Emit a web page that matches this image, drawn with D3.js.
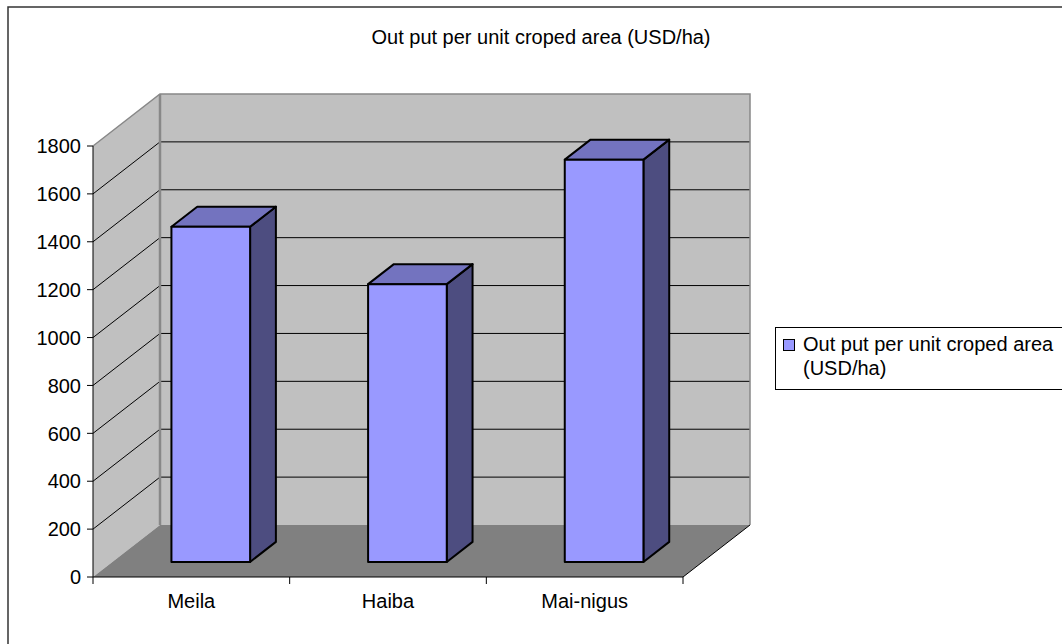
<!DOCTYPE html>
<html><head><meta charset="utf-8">
<script src="https://cdn.jsdelivr.net/npm/d3@7"></script>
<style>
html,body{margin:0;padding:0;background:#fff;}
svg{display:block;font-family:"Liberation Sans",Arial,sans-serif;}
</style></head>
<body>
<svg id="chart" width="1062" height="644"></svg>
<script>
const title = "Out put per unit croped area (USD/ha)";
const categories = ["Meila", "Haiba", "Mai-nigus"];
const values = [1400, 1160, 1680];
const seriesName = ["Out put per unit croped area", "(USD/ha)"];
const yTicks = [0, 200, 400, 600, 800, 1000, 1200, 1400, 1600, 1800];

const svg = d3.select("#chart");
const W = 1062, H = 644;
const fs = 20;

// outer border
svg.append("rect").attr("x", 8).attr("y", 7).attr("width", W + 20).attr("height", H + 20)
  .attr("fill", "#fff").attr("stroke", "#333").attr("stroke-width", 1.5);

// geometry
const x0 = 93, x1 = 683;
const dX = 67, dY = -52; // depth vector
const y = d3.scaleLinear().domain([0, 1800]).range([577, 146]);
const x = d3.scaleBand().domain(categories).range([x0, x1]).paddingInner(0.6).paddingOuter(0.3);
const t0 = 0.29, t1 = 0.675;

const yb = v => y(v) + dY; // back plane
const xb = v => v + dX;

const g = svg.append("g");
const line = d3.line();

// back wall
g.append("path").attr("d", line([[xb(x0), yb(1800)], [xb(x1), yb(1800)], [xb(x1), yb(0)], [xb(x0), yb(0)]]) + "Z")
  .attr("fill", "#c0c0c0");
// side wall
g.append("path").attr("d", line([[x0, y(1800)], [xb(x0), yb(1800)], [xb(x0), yb(0)], [x0, y(0)]]) + "Z")
  .attr("fill", "#c0c0c0");
// floor
g.append("path").attr("d", line([[x0, y(0)], [x1, y(0)], [xb(x1), yb(0)], [xb(x0), yb(0)]]) + "Z")
  .attr("fill", "#808080");

// gridlines
const gridVals = yTicks.filter(v => v > 0 && v < 1800);
g.selectAll(".gb").data(gridVals).join("line")
  .attr("x1", xb(x0)).attr("x2", xb(x1)).attr("y1", d => yb(d)).attr("y2", d => yb(d))
  .attr("stroke", "#000").attr("stroke-width", 1);
g.selectAll(".gs").data(gridVals).join("line")
  .attr("x1", x0).attr("x2", xb(x0)).attr("y1", d => y(d)).attr("y2", d => yb(d))
  .attr("stroke", "#000").attr("stroke-width", 1);

// wall edges (gray)
const edgeC = "#888";
g.append("path").attr("d", line([[x0, y(1800)], [xb(x0), yb(1800)], [xb(x1), yb(1800)], [xb(x1), yb(0)]]))
  .attr("fill", "none").attr("stroke", edgeC).attr("stroke-width", 1.5);
g.append("line").attr("x1", xb(x0)).attr("x2", xb(x0)).attr("y1", yb(1800)).attr("y2", yb(0))
  .attr("stroke", edgeC).attr("stroke-width", 2.5);
// floor right edge
g.append("line").attr("x1", x1).attr("y1", y(0)).attr("x2", xb(x1)).attr("y2", yb(0))
  .attr("stroke", "#000").attr("stroke-width", 1);

// bars
const bars = g.selectAll(".bar").data(categories.map((c, i) => ({c, v: values[i]}))).join("g");
bars.each(function(d) {
  const gg = d3.select(this);
  const L = x(d.c) + t0 * dX, R = x(d.c) + x.bandwidth() + t0 * dX;
  const T = y(d.v) + t0 * dY, B = y(0) + t0 * dY;
  const ddx = (t1 - t0) * dX, ddy = (t1 - t0) * dY;
  const face = (pts, fill) => gg.append("path").attr("d", line(pts) + "Z").attr("fill", fill)
    .attr("stroke", "#000").attr("stroke-width", 2).attr("stroke-linejoin", "round");
  face([[R, T], [R + ddx, T + ddy], [R + ddx, B + ddy], [R, B]], "#4d4d80");
  face([[L, T], [L + ddx, T + ddy], [R + ddx, T + ddy], [R, T]], "#7373bf");
  face([[L, T], [R, T], [R, B], [L, B]], "#9999ff");
});

// y axis
g.append("line").attr("x1", x0).attr("x2", x0).attr("y1", y(1800)).attr("y2", y(0)).attr("stroke", "#000");
g.selectAll(".yt").data(yTicks).join("line")
  .attr("x1", x0 - 6).attr("x2", x0).attr("y1", d => y(d)).attr("y2", d => y(d)).attr("stroke", "#000");
g.selectAll(".yl").data(yTicks).join("text")
  .attr("x", x0 - 12).attr("y", d => y(d)).attr("dy", "0.36em")
  .attr("text-anchor", "end").attr("font-size", fs).attr("fill", "#000").text(d => d);

// x axis
g.append("line").attr("x1", x0).attr("x2", x1).attr("y1", y(0)).attr("y2", y(0)).attr("stroke", "#000");
const xTickPos = categories.map(c => x(c) - x.step() * x.paddingInner() / 2).concat([x1]);
g.selectAll(".xt").data(xTickPos).join("line")
  .attr("x1", d => d).attr("x2", d => d).attr("y1", y(0)).attr("y2", y(0) + 7).attr("stroke", "#000");
g.selectAll(".xl").data(categories).join("text")
  .attr("x", d => x(d) + x.bandwidth() / 2).attr("y", 608)
  .attr("text-anchor", "middle").attr("font-size", fs).attr("fill", "#000").text(d => d);

// title
svg.append("text").attr("x", 541).attr("y", 44).attr("text-anchor", "middle")
  .attr("font-size", fs).attr("fill", "#000").text(title);

// legend
const lg = svg.append("g");
lg.append("rect").attr("x", 775.5).attr("y", 327.5).attr("width", 300).attr("height", 62)
  .attr("fill", "#fff").attr("stroke", "#000").attr("stroke-width", 1);
lg.append("rect").attr("x", 783.5).attr("y", 339.5).attr("width", 11).attr("height", 11)
  .attr("fill", "#9999ff").attr("stroke", "#000").attr("stroke-width", 1);
lg.selectAll(".lt").data(seriesName).join("text")
  .attr("x", 803).attr("y", (d, i) => 351 + i * 24)
  .attr("font-size", fs).attr("fill", "#000").text(d => d);
</script>
</body></html>
